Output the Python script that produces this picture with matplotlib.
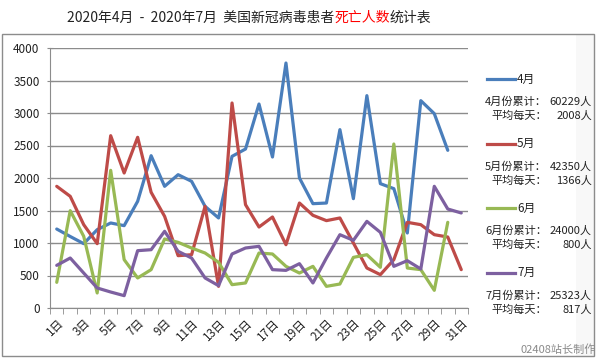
import numpy as np
import matplotlib
matplotlib.use('Agg')
import matplotlib.pyplot as plt
from matplotlib.patches import Rectangle

plt.rcParams['font.family'] = ['Noto Sans CJK SC', 'DejaVu Sans']

# daily deaths
days = list(range(1, 32))
apr = [1215, 1100, 990, 1205, 1308, 1267, 1641, 2343, 1872, 2051,
       1949, 1564, 1385, 2333, 2446, 3138, 2323, 3769, 2000, 1605,
       1615, 2744, 1682, 3267, 1913, 1836, 1154, 3190, 2990, 2426]
may = [1872, 1718, 1282, 990, 2651, 2077, 2626, 1780, 1410, 805,
       820, 1564, 333, 3154, 1590, 1246, 1400, 974, 1615, 1426,
       1344, 1385, 1000, 615, 513, 744, 1318, 1282, 1128, 1092, 590]
jun = [395, 1497, 1103, 231, 2118, 744, 462, 590, 1062, 1010,
       923, 846, 703, 359, 385, 846, 831, 641, 538, 641,
       333, 369, 779, 820, 626, 2523, 615, 590, 272, 1318]
jul = [656, 769, 538, 308, 246, 190, 882, 897, 1180, 872,
       769, 462, 344, 831, 923, 949, 590, 579, 682, 385,
       769, 1128, 1041, 1333, 1164, 641, 728, 600, 1872, 1523, 1462]

months = ['4月', '5月', '6月', '7月']
series = [apr, may, jun, jul]
totals = ['60229人', '42350人', '24000人', '25323人']
averages = ['2008人', '1366人', '800人', '817人']
colors = ['#4a7ebb', '#be4b48', '#98b954', '#7d60a0']

W, H = 600, 360
fig = plt.figure(figsize=(6, 3.6), dpi=100)

# outer frame and faint right strip
fig.patches.append(Rectangle((576 / W, 1 - 356 / H), 18 / W, 322 / H,
                             transform=fig.transFigure, facecolor='#f8f8f8',
                             edgecolor='none', zorder=0))
fig.patches.append(Rectangle((2 / W, 1 - 356 / H), 592 / W, 322 / H,
                             transform=fig.transFigure, fill=False,
                             edgecolor='#8c8c8c', lw=1, zorder=1))

ax = fig.add_axes([50 / W, 1 - 308 / H, 418 / W, 260 / H])
for vals, c in zip(series, colors):
    ax.plot(days[:len(vals)], vals, color=c, lw=2.3,
            solid_joinstyle='round', solid_capstyle='round')

ax.set_xlim(0.5, 31.5)
ax.set_ylim(0, 4000)
ax.set_yticks(np.arange(0, 4001, 500))
ax.yaxis.grid(True, color='#8c8c8c', lw=1)
ax.set_axisbelow(True)

ax.set_xticks(days[::2])
ax.set_xticklabels([f'{d}日' for d in days[::2]], rotation=45, ha='right',
                   rotation_mode='anchor', fontsize=8.5, color='#222222')
ax.set_xticks(np.arange(0.5, 32), minor=True)
ax.tick_params(axis='x', which='major', length=0, pad=6)
ax.tick_params(axis='x', which='minor', length=4, color='#8c8c8c', direction='out')
ax.tick_params(axis='y', length=5, color='#8c8c8c', direction='inout',
               labelsize=8.5, labelcolor='#222222', pad=5)

for s in ['top', 'right']:
    ax.spines[s].set_visible(False)
for s in ['left', 'bottom']:
    ax.spines[s].set_color('#8c8c8c')

# legend panel on the right
for i, (m, c) in enumerate(zip(months, colors)):
    y0 = 79 + i * 64.5
    fig.lines.append(plt.Line2D([487 / W, 515 / W], [1 - y0 / H, 1 - y0 / H],
                                transform=fig.transFigure, color=c, lw=2.3))
    fig.text(517 / W, 1 - y0 / H, m, ha='left', va='center', fontsize=8.5, color='#222222')
    fig.text(485 / W, 1 - (y0 + 23) / H, f'{m}份累计：', ha='left', va='center',
             fontsize=8, color='#222222')
    fig.text(592 / W, 1 - (y0 + 23) / H, totals[i], ha='right', va='center',
             fontsize=8, color='#222222')
    fig.text(491 / W, 1 - (y0 + 37) / H, '平均每天：', ha='left', va='center',
             fontsize=8, color='#222222')
    fig.text(592 / W, 1 - (y0 + 37) / H, averages[i], ha='right', va='center',
             fontsize=8, color='#222222')

# title with the red part
parts = [('2020年4月  -  2020年7月  美国新冠病毒患者', '#222222'),
         ('死亡人数', '#ff0000'),
         ('统计表', '#222222')]
renderer = fig.canvas.get_renderer()
texts = [fig.text(0, 1 - 18 / H, t, color=c, fontsize=10, ha='left', va='center')
         for t, c in parts]
widths = [t.get_window_extent(renderer).width for t in texts]
x = 249 - sum(widths) / 2
for t, w in zip(texts, widths):
    t.set_x(x / W)
    x += w

fig.text(596 / W, 1 - 350 / H, '02408站长制作', ha='right', va='center',
         fontsize=8, color='#8a8a8a')

fig.savefig('out.png', dpi=100)
